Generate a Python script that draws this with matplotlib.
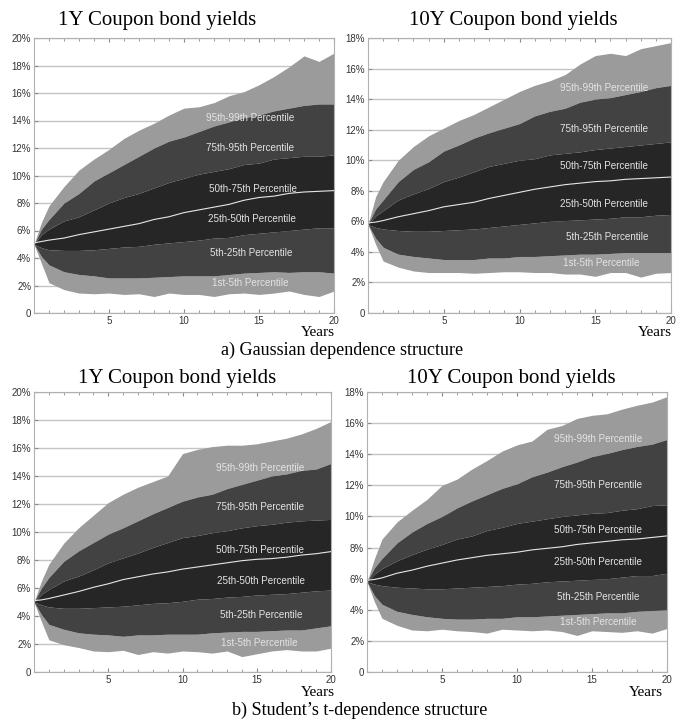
import numpy as np
import matplotlib
matplotlib.use('Agg')
from matplotlib import pyplot as plt

years = [0, 0.5, 1, 2, 3, 4, 5, 6, 7, 8, 9, 10, 11, 12, 13, 14, 15, 16, 17, 18, 19, 20]

# 1Y coupon bond yields, Gaussian dependence (percent)
g1_p99 = [5.0, 6.6, 7.8, 9.2, 10.4, 11.2, 11.9, 12.7, 13.3, 13.8, 14.4, 14.9, 15.0, 15.3, 15.8, 16.1, 16.6, 17.2, 17.9, 18.7, 18.3, 18.9]
g1_p95 = [5.0, 6.1, 6.8, 8.0, 8.7, 9.6, 10.2, 10.8, 11.4, 12.0, 12.5, 12.8, 13.2, 13.6, 13.9, 14.2, 14.4, 14.7, 14.9, 15.1, 15.2, 15.2]
g1_p75 = [5.0, 5.7, 6.1, 6.7, 7.0, 7.5, 8.0, 8.4, 8.7, 9.1, 9.5, 9.8, 10.1, 10.3, 10.5, 10.8, 10.9, 11.2, 11.3, 11.4, 11.4, 11.5]
g1_p50 = [5.1, 5.2, 5.3, 5.45, 5.7, 5.9, 6.1, 6.3, 6.5, 6.8, 7.0, 7.3, 7.5, 7.7, 7.9, 8.2, 8.4, 8.5, 8.7, 8.8, 8.85, 8.9]
g1_p25 = [5.0, 4.75, 4.6, 4.55, 4.55, 4.6, 4.7, 4.8, 4.85, 5.0, 5.1, 5.2, 5.3, 5.45, 5.5, 5.7, 5.8, 5.9, 6.0, 6.1, 6.2, 6.2]
g1_p5 = [5.0, 4.1, 3.5, 3.0, 2.8, 2.7, 2.55, 2.55, 2.55, 2.6, 2.65, 2.7, 2.7, 2.7, 2.8, 2.9, 2.95, 3.0, 2.95, 3.0, 3.0, 2.9]
g1_p1 = [5.0, 3.6, 2.2, 1.7, 1.45, 1.4, 1.45, 1.35, 1.4, 1.2, 1.45, 1.35, 1.35, 1.2, 1.4, 1.45, 1.35, 1.45, 1.6, 1.35, 1.2, 1.6]

# 10Y coupon bond yields, Gaussian dependence
g10_p99 = [5.8, 7.6, 8.6, 10.0, 10.9, 11.6, 12.1, 12.6, 13.0, 13.5, 14.0, 14.5, 14.9, 15.2, 15.6, 16.3, 16.85, 17.0, 16.85, 17.3, 17.5, 17.7]
g10_p95 = [5.8, 6.8, 7.4, 8.6, 9.4, 9.9, 10.6, 11.0, 11.45, 11.8, 12.1, 12.4, 12.9, 13.2, 13.4, 13.8, 14.0, 14.1, 14.3, 14.5, 14.75, 14.9]
g10_p75 = [5.8, 6.35, 6.7, 7.4, 7.8, 8.15, 8.6, 8.9, 9.25, 9.6, 9.8, 10.0, 10.1, 10.35, 10.45, 10.55, 10.7, 10.8, 10.9, 11.0, 11.1, 11.2]
g10_p50 = [5.9, 5.95, 6.05, 6.3, 6.5, 6.7, 6.95, 7.1, 7.25, 7.5, 7.7, 7.9, 8.1, 8.25, 8.4, 8.5, 8.6, 8.65, 8.75, 8.8, 8.85, 8.9]
g10_p25 = [5.8, 5.6, 5.5, 5.4, 5.35, 5.35, 5.4, 5.45, 5.5, 5.6, 5.7, 5.8, 5.9, 6.0, 6.05, 6.1, 6.15, 6.2, 6.3, 6.3, 6.4, 6.45]
g10_p5 = [5.8, 4.9, 4.3, 3.85, 3.7, 3.6, 3.5, 3.5, 3.5, 3.6, 3.6, 3.7, 3.7, 3.75, 3.8, 3.85, 3.85, 3.9, 3.95, 3.95, 3.95, 3.95]
g10_p1 = [5.8, 4.5, 3.4, 3.0, 2.75, 2.65, 2.65, 2.65, 2.6, 2.65, 2.7, 2.7, 2.65, 2.65, 2.55, 2.55, 2.4, 2.65, 2.65, 2.35, 2.6, 2.65]

# 1Y coupon bond yields, Student's t dependence
t1_p99 = [5.0, 6.5, 7.7, 9.2, 10.3, 11.2, 12.1, 12.7, 13.2, 13.6, 14.0, 15.6, 15.9, 16.1, 16.2, 16.2, 16.3, 16.5, 16.7, 17.0, 17.4, 17.9]
t1_p95 = [5.0, 6.0, 6.75, 7.9, 8.65, 9.25, 9.85, 10.3, 10.8, 11.3, 11.75, 12.2, 12.5, 12.7, 13.1, 13.4, 13.7, 14.0, 14.15, 14.4, 14.5, 14.9]
t1_p75 = [5.0, 5.55, 5.9, 6.5, 6.85, 7.3, 7.8, 8.15, 8.5, 8.9, 9.25, 9.6, 9.75, 9.95, 10.1, 10.3, 10.45, 10.55, 10.7, 10.8, 10.85, 10.9]
t1_p50 = [5.1, 5.15, 5.25, 5.5, 5.75, 6.05, 6.3, 6.6, 6.8, 7.0, 7.15, 7.35, 7.5, 7.65, 7.8, 7.95, 8.05, 8.1, 8.2, 8.35, 8.45, 8.6]
t1_p25 = [5.0, 4.8, 4.65, 4.55, 4.55, 4.6, 4.65, 4.7, 4.8, 4.9, 4.95, 5.05, 5.2, 5.25, 5.35, 5.4, 5.5, 5.55, 5.6, 5.7, 5.8, 5.85]
t1_p5 = [5.0, 4.1, 3.4, 3.05, 2.8, 2.7, 2.65, 2.55, 2.65, 2.65, 2.7, 2.7, 2.7, 2.8, 2.85, 2.9, 2.9, 2.95, 3.0, 3.0, 3.15, 3.3]
t1_p1 = [5.0, 3.6, 2.3, 1.95, 1.75, 1.5, 1.45, 1.55, 1.25, 1.45, 1.35, 1.5, 1.45, 1.35, 1.5, 1.1, 1.3, 1.5, 1.6, 1.5, 1.5, 1.7]

# 10Y coupon bond yields, Student's t dependence
t10_p99 = [5.8, 7.3, 8.55, 9.65, 10.4, 11.1, 12.0, 12.4, 13.05, 13.6, 14.2, 14.6, 14.85, 15.6, 15.85, 16.3, 16.5, 16.6, 16.9, 17.15, 17.35, 17.7]
t10_p95 = [5.8, 6.7, 7.3, 8.3, 9.0, 9.55, 10.0, 10.55, 11.0, 11.4, 11.8, 12.1, 12.55, 12.85, 13.2, 13.5, 13.85, 14.05, 14.3, 14.5, 14.65, 14.95]
t10_p75 = [5.8, 6.3, 6.65, 7.15, 7.55, 7.9, 8.2, 8.55, 8.75, 9.1, 9.3, 9.55, 9.7, 9.85, 10.0, 10.1, 10.2, 10.25, 10.4, 10.5, 10.7, 10.75]
t10_p50 = [5.9, 5.95, 6.05, 6.35, 6.55, 6.8, 7.0, 7.2, 7.35, 7.5, 7.6, 7.7, 7.85, 7.95, 8.05, 8.2, 8.3, 8.4, 8.5, 8.55, 8.65, 8.75]
t10_p25 = [5.8, 5.65, 5.55, 5.45, 5.4, 5.35, 5.35, 5.4, 5.45, 5.5, 5.55, 5.65, 5.7, 5.8, 5.85, 5.9, 5.95, 6.0, 6.1, 6.2, 6.2, 6.35]
t10_p5 = [5.8, 4.9, 4.35, 3.9, 3.7, 3.55, 3.45, 3.4, 3.4, 3.45, 3.45, 3.55, 3.55, 3.6, 3.65, 3.7, 3.75, 3.8, 3.8, 3.9, 3.95, 4.0]
t10_p1 = [5.8, 4.5, 3.45, 3.0, 2.7, 2.65, 2.75, 2.65, 2.6, 2.5, 2.75, 2.7, 2.65, 2.7, 2.6, 2.35, 2.65, 2.6, 2.55, 2.65, 2.5, 2.8]

band_labels = ['95th-99th Percentile', '75th-95th Percentile', '50th-75th Percentile',
               '25th-50th Percentile', '5th-25th Percentile', '1st-5th Percentile']

light = '#9b9b9b'
mid = '#424242'
dark = '#262626'

fig = plt.figure(figsize=(6.77, 7.2), dpi=100)


def fan(rect, curves, ymax, lab_x, lab_y):
    p99, p95, p75, p50, p25, p5, p1 = curves
    ax = fig.add_axes(rect)
    ax.fill_between(years, p95, p99, color=light, lw=0)
    ax.fill_between(years, p1, p5, color=light, lw=0)
    ax.fill_between(years, p75, p95, color=mid, lw=0)
    ax.fill_between(years, p5, p25, color=mid, lw=0)
    ax.fill_between(years, p25, p75, color=dark, lw=0)
    ax.plot(years, p50, color='#e6e6e6', lw=0.8)
    for lab, x, y in zip(band_labels, lab_x, lab_y):
        ax.text(x, y, lab, color='#e4e4e4', fontsize=7.1, ha='center', va='center',
                family='Liberation Sans')
    ax.set_xlim(0, 20)
    ax.set_ylim(0, ymax)
    ax.set_xticks([5, 10, 15, 20])
    ax.set_xticks(range(0, 21), minor=True)
    yt = list(range(0, ymax + 1, 2))
    ax.set_yticks(yt)
    ax.set_yticklabels(['0' if v == 0 else '%d%%' % v for v in yt])
    ax.grid(axis='y', color='#c4c4c4', lw=1.0)
    ax.set_axisbelow(True)
    ax.tick_params(which='both', direction='in', top=True, color='#8a8a8a',
                   labelsize=7, labelcolor='#333333', pad=2)
    ax.tick_params(which='major', length=3)
    ax.tick_params(which='minor', length=2)
    for s in ax.spines.values():
        s.set_color('#b0b0b0')
    for lbl in ax.get_xticklabels() + ax.get_yticklabels():
        lbl.set_family('Liberation Sans')
    return ax


top_y = 1 - 313 / 720
top_h = (313 - 38) / 720
bot_y = 1 - 672 / 720
bot_h = (672 - 392) / 720

fan([34 / 677, top_y, 300 / 677, top_h],
    [g1_p99, g1_p95, g1_p75, g1_p50, g1_p25, g1_p5, g1_p1], 20,
    [14.4, 14.4, 14.6, 14.5, 14.5, 14.4], [14.2, 12.0, 9.0, 6.8, 4.35, 2.2])
fan([368 / 677, top_y, 303 / 677, top_h],
    [g10_p99, g10_p95, g10_p75, g10_p50, g10_p25, g10_p5, g10_p1], 18,
    [15.6, 15.6, 15.6, 15.6, 15.8, 15.4], [14.7, 12.05, 9.65, 7.15, 4.95, 3.3])
fan([34 / 677, bot_y, 297 / 677, bot_h],
    [t1_p99, t1_p95, t1_p75, t1_p50, t1_p25, t1_p5, t1_p1], 20,
    [15.2, 15.2, 15.2, 15.3, 15.3, 15.2], [14.6, 11.75, 8.7, 6.5, 4.1, 2.1])
fan([367 / 677, bot_y, 300 / 677, bot_h],
    [t10_p99, t10_p95, t10_p75, t10_p50, t10_p25, t10_p5, t10_p1], 18,
    [15.4, 15.4, 15.4, 15.4, 15.4, 15.4], [15.0, 12.0, 9.15, 7.1, 4.85, 3.2])

serif = 'Liberation Serif'
fig.text(157 / 677, 1 - 20 / 720, '1Y Coupon bond yields', family=serif, fontsize=15, ha='center', va='center')
fig.text(513 / 677, 1 - 20 / 720, '10Y Coupon bond yields', family=serif, fontsize=15, ha='center', va='center')
fig.text(177 / 677, 1 - 378 / 720, '1Y Coupon bond yields', family=serif, fontsize=15, ha='center', va='center')
fig.text(511 / 677, 1 - 378 / 720, '10Y Coupon bond yields', family=serif, fontsize=15, ha='center', va='center')

fig.text(318 / 677, 1 - 333 / 720, 'Years', family=serif, fontsize=11, ha='center', va='center')
fig.text(655 / 677, 1 - 333 / 720, 'Years', family=serif, fontsize=11, ha='center', va='center')
fig.text(318 / 677, 1 - 693 / 720, 'Years', family=serif, fontsize=11, ha='center', va='center')
fig.text(646 / 677, 1 - 693 / 720, 'Years', family=serif, fontsize=11, ha='center', va='center')

fig.text(342 / 677, 1 - 350 / 720, 'a) Gaussian dependence structure', family=serif, fontsize=13, ha='center', va='center')
fig.text(360 / 677, 1 - 710 / 720, 'b) Student\u2019s t-dependence structure', family=serif, fontsize=13, ha='center', va='center')

fig.savefig('out.png', dpi=100)
